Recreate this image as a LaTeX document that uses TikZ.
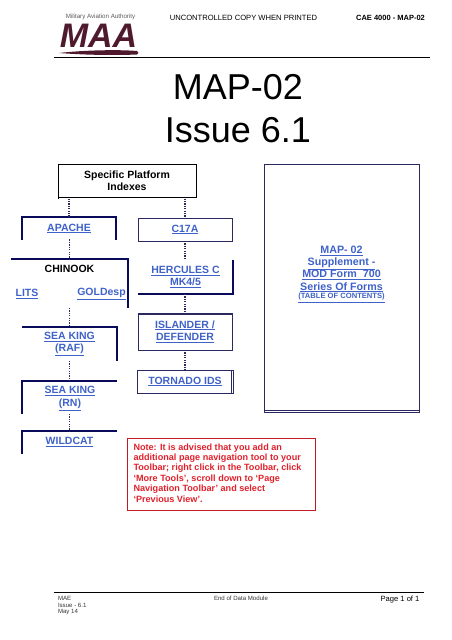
\documentclass[tikz,border=0pt]{standalone}
\usepackage{fontspec}
\setmainfont{Liberation Sans}
\definecolor{navy}{HTML}{0A0A5A}
\definecolor{thinnavy}{HTML}{2A2A60}
\definecolor{linkblue}{HTML}{3F62C8}
\definecolor{maroon}{HTML}{4F1A2E}
\definecolor{notered}{HTML}{E0202A}
\tikzset{
  slot/.style={inner sep=0pt,outer sep=0pt,align=center},
  linktext/.style={slot,text=linkblue,font=\fontsize{10.5}{12.6}\selectfont\bfseries},
  heavy/.style={draw=navy,line width=1.5pt},
  light/.style={draw=thinnavy,line width=0.8pt},
  dots/.style={draw=thinnavy,line width=1.2pt,dash pattern=on 1.2pt off 1.2pt},
  small/.style={slot,anchor=west,font=\fontsize{6.1}{8}\selectfont,text=black!80},
}
\newcommand{\lnk}[1]{\underline{#1}}
\begin{document}
\begin{tikzpicture}[x=1pt,y=-1pt]
\useasboundingbox (0,0) rectangle (452,640);
% header
\coordinate (hl) at (54,57); \coordinate (hr) at (430,57);
\draw[black,line width=0.9pt] (hl) -- (hr);
\node[slot,font=\fontsize{7.6}{9}\selectfont] (unc) at (243.5,17.5) {UNCONTROLLED COPY WHEN PRINTED};
\node[slot,font=\fontsize{7.5}{9}\selectfont\bfseries] (cae) at (390.5,17.5) {CAE 4000 - MAP-02};
% logo
\node[slot,font=\fontsize{6.2}{7}\selectfont,text=black!65] (auth) at (100.5,16.5) {Military Aviation Authority};
\node[slot,font=\fontsize{34}{34}\selectfont\bfseries\itshape,text=maroon] (maa) at (98.5,36) {MAA};
\fill[maroon] (59,53) .. controls (85,50) and (120,49.5) .. (137,51) .. controls (139,52.5) and (139,53.5) .. (137,54.5) .. controls (115,55.5) and (85,55) .. (59,53) -- cycle;
% title
\node[slot,font=\fontsize{36}{43}\selectfont] (title) at (238,109) {MAP-02\\Issue 6.1};
% left column
\node[slot,minimum width=138pt,minimum height=33pt,font=\fontsize{10.5}{12.4}\selectfont\bfseries] (spec) at (127,180.5) {Specific Platform\\Indexes};
\draw[black,line width=0.9pt] (spec.south west) -- ++(0,1.5) (spec.south west) -- (spec.north west) -- (spec.north east) -- (spec.south east) -- (spec.south west);

\node[linktext,minimum width=94pt,minimum height=23pt] (apache) at (69,228.5) {\lnk{APACHE}};
\draw[heavy] (apache.south west) -- (apache.north west) -- (apache.north east) -- (apache.south east);

\node[slot,minimum width=117pt,minimum height=49pt] (chinook) at (69.5,283.5) {};
\draw[heavy] (chinook.north west) -- (chinook.north east) -- (chinook.south east);
\node[slot,font=\fontsize{10.5}{11}\selectfont\bfseries] (chtext) at (69.5,269) {CHINOOK};
\node[linktext] (lits) at (27,294) {\lnk{LITS}};
\node[linktext] (gold) at (101.5,294) {\lnk{GOLDesp}};

\node[slot,minimum width=95pt,minimum height=34pt] (raf) at (69.5,344) {};
\node[linktext] (raftext) at (69.5,344) {\lnk{SEA KING}\\\lnk{(RAF)}};
\draw[heavy] (raf.north west) -- (raf.north east) -- (raf.south east);
\node[slot,minimum width=95pt,minimum height=33pt] (rn) at (69.5,397.5) {};
\node[linktext] (rntext) at (70,398.5) {\lnk{SEA KING}\\\lnk{(RN)}};
\draw[heavy] (rn.north east) -- (rn.north west) -- (rn.south west);
\node[slot,minimum width=95pt,minimum height=23pt] (wild) at (69.5,442.5) {};
\node[linktext] (wildtext) at (69.5,442) {\lnk{WILDCAT}};
\draw[heavy] (wild.north east) -- (wild.north west) -- (wild.south west);
% right column
\node[linktext,minimum width=94pt,minimum height=23pt] (c17) at (185,229.5) {\lnk{C17A}};
\draw[light] (c17.south west) rectangle (c17.north east);
\node[linktext,minimum width=95pt,minimum height=34pt] (herc) at (185.5,277) {\lnk{HERCULES C}\\\lnk{MK4/5}};
\draw[heavy] (herc.north east) -- (herc.south east) -- (herc.south west);
\node[linktext,minimum width=94pt,minimum height=37pt] (isl) at (185,331.5) {\lnk{ISLANDER /}\\\lnk{DEFENDER}};
\draw[light] (isl.south west) rectangle (isl.north east);
\draw[light,line width=0.5pt] ([yshift=-1.5pt]isl.north west) -- ([yshift=-1.5pt]isl.north east);
\node[linktext,minimum width=96pt,minimum height=23pt] (tor) at (185,381.5) {\lnk{TORNADO IDS}};
\draw[light] (tor.south west) rectangle (tor.north east);
\draw[light,line width=0.5pt] ([xshift=-1.5pt]tor.north east) -- ([xshift=-1.5pt]tor.south east);
% connectors
\draw[dots] (apache.north |- spec.south) ++(0,1.5) -- (apache.north);
\draw[dots] (c17.north |- spec.south) ++(0,1.5) -- (c17.north);
\draw[dots] (apache.south) -- (chinook.north |- apache.south) -- (chinook.north);
\draw[dots] (chinook.south) -- (raf.north);
\draw[dots] (raf.south) -- (rn.north);
\draw[dots] (rn.south) -- (wild.north);
\draw[dots] (c17.south) -- (herc.north -| c17.south);
\draw[dots] (herc.south -| c17.south) -- (isl.north);
\draw[dots] (isl.south) -- (tor.north);
% map box
\node[slot,minimum width=155pt,minimum height=248pt] (map) at (341.5,288) {};
\draw[light] (map.south west) rectangle (map.north east);
\draw[light,line width=0.5pt] ([yshift=1.5pt]map.south west) -- ([yshift=1.5pt]map.south east);
\node[linktext,font=\fontsize{10.7}{12.3}\selectfont\bfseries] (maptext) at (341.5,269) {\lnk{MAP- 02}\\\lnk{Supplement -}\\\lnk{MOD Form\ \ 700}\\\lnk{Series Of Forms}};
\node[linktext,font=\fontsize{7.6}{8}\selectfont\bfseries] (toc) at (341.5,298) {\lnk{(TABLE OF CONTENTS)}};
% note
\node[draw=notered!85!black,line width=0.8pt,inner sep=0pt,minimum width=188pt,minimum height=72pt,anchor=north west] (note) at (127,438) {};
\node[slot,align=left,anchor=north west,text=notered,font=\fontsize{9.1}{10.4}\selectfont\bfseries] (notetext) at (133.5,443.5) {Note: It is advised that you add an\\additional page navigation tool to your\\Toolbar; right click in the Toolbar, click\\‘More Tools’, scroll down to ‘Page\\Navigation Toolbar’ and select\\‘Previous View’.};
% footer
\coordinate (fl) at (54,592.5); \coordinate (fr) at (424,592.5);
\draw[black,line width=0.9pt] (fl) -- (fr);
\node[small] (f1) at (58,598.5) {MAE};
\node[small] (f2) at (58,605.5) {Issue - 6.1};
\node[small] (f3) at (58,612.5) {May 14};
\node[small] (f4) at (214,598.5) {End of Data Module};
\node[slot,font=\fontsize{7.6}{9}\selectfont] (f5) at (400,599.5) {Page 1 of 1};
\end{tikzpicture}
\end{document}
